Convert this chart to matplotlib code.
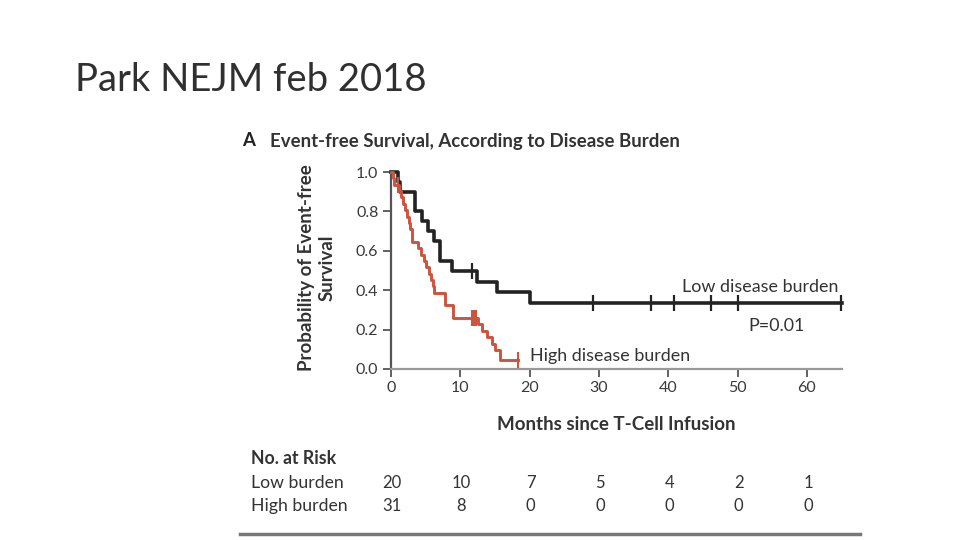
import matplotlib
matplotlib.use("Agg")
import matplotlib.pyplot as plt

plt.rcParams['font.family'] = ['Lato', 'DejaVu Sans']

# ---- data ----
low_t = [0, 1.0, 1.3, 3.5, 4.4, 5.3, 6.2, 7.0, 8.8, 12.4, 15.3, 20.1]
low_s = [1.0, 0.95, 0.90, 0.80, 0.75, 0.70, 0.65, 0.55, 0.50, 0.444, 0.389, 0.333]
low_end = 65.0
low_cens = [11.7, 29.1, 37.5, 40.8, 46.1, 50.1, 64.9]

high_t = [0, 0.3, 0.5, 1.1, 1.4, 1.7, 2.0, 2.3, 2.6, 2.8, 3.0, 3.1, 3.9, 4.3, 4.7,
          5.1, 5.5, 5.8, 6.0, 6.2, 7.8, 8.9, 9.0, 12.6, 13.1, 13.8, 14.5, 15.0, 15.7]
high_s = [1.0, 0.968, 0.935, 0.903, 0.871, 0.839, 0.806, 0.774, 0.742, 0.710, 0.677,
          0.645, 0.613, 0.581, 0.548, 0.516, 0.484, 0.452, 0.419, 0.387, 0.323,
          0.290, 0.258, 0.226, 0.194, 0.161, 0.129, 0.097, 0.045]
high_end = 18.3
high_cens = [1.0, 11.7, 12.0, 12.3, 18.3]

xticks = [0, 10, 20, 30, 40, 50, 60]
yticks = [0.0, 0.2, 0.4, 0.6, 0.8, 1.0]
risk_low = [20, 10, 7, 5, 4, 2, 1]
risk_high = [31, 8, 0, 0, 0, 0, 0]

BLACK = '#232323'
RED = '#c9553f'
GRAY = '#555555'
TXT = '#333333'

W, H = 960, 540
fig = plt.figure(figsize=(9.6, 5.4), dpi=100)

def fx(px):
    return px / W

def fy(py):
    return 1 - py / H

ax = fig.add_axes([fx(391), fy(369), fx(841.6) - fx(391), fy(172) - fy(369)])

def step_vals(t, s, end):
    xs = list(t) + [end]
    ys = list(s) + [s[-1]]
    return xs, ys

def surv_at(t, s, x):
    v = s[0]
    for ti, si in zip(t, s):
        if ti <= x:
            v = si
    return v

xs, ys = step_vals(low_t, low_s, low_end)
ax.step(xs, ys, where='post', color=BLACK, lw=2.6, clip_on=False, zorder=3)
ax.plot(low_cens, [surv_at(low_t, low_s, c) for c in low_cens], ls='none',
        marker='|', ms=11, mew=1.6, color=BLACK, clip_on=False, zorder=3)

xs, ys = step_vals(high_t, high_s, high_end)
ax.step(xs, ys, where='post', color=RED, lw=2.1, clip_on=False, zorder=4)
ax.plot(high_cens, [surv_at(high_t, high_s, c) for c in high_cens], ls='none',
        marker='|', ms=11, mew=1.5, color=RED, clip_on=False, zorder=4)

ax.set_xlim(0, 65)
ax.set_ylim(0, 1.0)
ax.set_xticks(xticks)
ax.set_yticks(yticks)
ax.set_yticklabels([f'{v:.1f}' for v in yticks])
for sp in ['top', 'right']:
    ax.spines[sp].set_visible(False)
for sp in ['left', 'bottom']:
    ax.spines[sp].set_color(GRAY)
    ax.spines[sp].set_linewidth(1.6)
ax.spines['bottom'].set_color('#9a9a9a')
ax.tick_params(axis='both', direction='out', length=6, width=1.3, color=GRAY,
               labelsize=11.5, labelcolor='#3a3a3a', pad=3)
ax.patch.set_alpha(0)

ax.set_xlabel('Months since T-Cell Infusion', fontsize=13.5, fontweight='bold',
              color=TXT, labelpad=15)
fig.text(fx(317), fy(268), 'Probability of Event-free\nSurvival', rotation=90,
         ha='center', va='center', fontsize=13.5, fontweight='bold',
         color=TXT, linespacing=1.25)

# curve labels
fig.text(fx(838), fy(287), 'Low disease burden', ha='right', va='center',
         fontsize=12.9, color=TXT)
fig.text(fx(805), fy(326), 'P=0.01', ha='right', va='center',
         fontsize=12.9, color=TXT)
fig.text(fx(530), fy(356), 'High disease burden', ha='left', va='center',
         fontsize=12.9, color=TXT)

# panel title
fig.text(fx(242), fy(141), 'A', ha='left', va='center', fontsize=13.4,
         fontweight='bold', color='#222222')
fig.text(fx(270), fy(141), 'Event-free Survival, According to Disease Burden',
         ha='left', va='center', fontsize=13.4, fontweight='bold', color=TXT)

# slide title
fig.text(fx(75), fy(80), 'Park NEJM feb 2018', ha='left', va='center',
         fontsize=27.5, color='#303030')

# number at risk
fig.text(fx(251), fy(459), 'No. at Risk', ha='left', va='center', fontsize=12.7,
         fontweight='bold', color=TXT)
fig.text(fx(251), fy(483), 'Low burden', ha='left', va='center', fontsize=12.7,
         color=TXT)
fig.text(fx(251), fy(506), 'High burden', ha='left', va='center', fontsize=12.7,
         color=TXT)
for xt, a, b in zip(xticks, risk_low, risk_high):
    px = 391 + (841.6 - 391) * xt / 65 + 1
    fig.text(fx(px), fy(483), str(a), ha='center', va='center', fontsize=12,
             color=TXT)
    fig.text(fx(px), fy(506), str(b), ha='center', va='center', fontsize=12,
             color=TXT)

fig.add_artist(plt.Line2D([fx(240), fx(860)], [fy(534), fy(534)], color='#777777',
                          lw=2.5, transform=fig.transFigure))

fig.savefig('out.png', dpi=100)
